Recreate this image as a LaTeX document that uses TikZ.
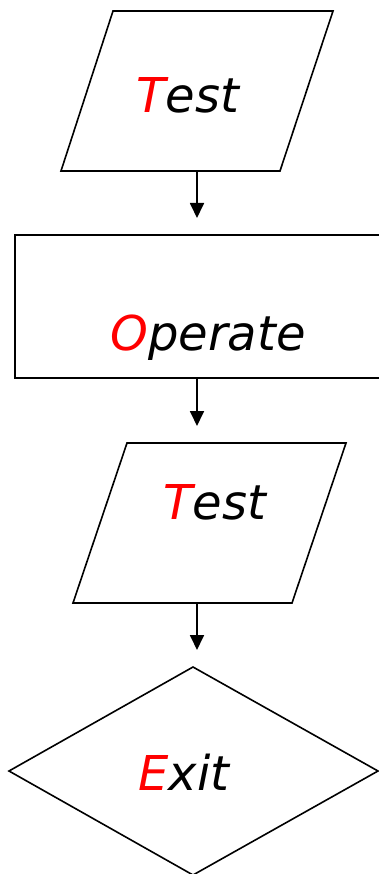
\documentclass[tikz,border=0pt]{standalone}
\usepackage{fontspec}
\setmainfont{DejaVu Sans}
\usetikzlibrary{arrows.meta}
\definecolor{lred}{RGB}{255,0,0}
\tikzset{
  shapeline/.style={draw=black, line width=1.6pt, line join=miter},
  boxline/.style={draw=black, line width=2pt},
  flowarrow/.style={draw=black, line width=1.8pt, -{Triangle[length=15pt,width=14pt]}},
  label/.style={inner sep=0pt, anchor=base, font=\fontsize{48}{50}\selectfont\itshape}
}
\begin{document}
\begin{tikzpicture}[x=1pt,y=-1pt]
\useasboundingbox (0,0) rectangle (379,874);
\clip (0,0) rectangle (379,874);
% shapes
\draw[shapeline] (113,11) -- (333,11) -- (280,171) -- (61,171) -- cycle;
\draw[boxline] (15,235) rectangle (390,378);
\draw[shapeline] (127,443) -- (346,443) -- (292,603) -- (73,603) -- cycle;
\draw[shapeline] (193,667) -- (378,771) -- (193,875) -- (9,771) -- cycle;
% texts
\node[label] (t1) at (188,113) {\textcolor{lred}{T}est};
\node[label] (t2) at (208,350) {\textcolor{lred}{O}perate};
\node[label] (t3) at (215,519) {\textcolor{lred}{T}est};
\node[label] (t4) at (184,790) {\textcolor{lred}{E}xit};
% connector endpoints
\coordinate (p1b) at (197,171);
\coordinate (r1t) at (197,218);
\coordinate (r1b) at (197,378);
\coordinate (p2t) at (197,426);
\coordinate (p2b) at (197,603);
\coordinate (d1t) at (197,650);
\draw[flowarrow] (p1b) -- (r1t);
\draw[flowarrow] (r1b) -- (p2t);
\draw[flowarrow] (p2b) -- (d1t);
\end{tikzpicture}
\end{document}
